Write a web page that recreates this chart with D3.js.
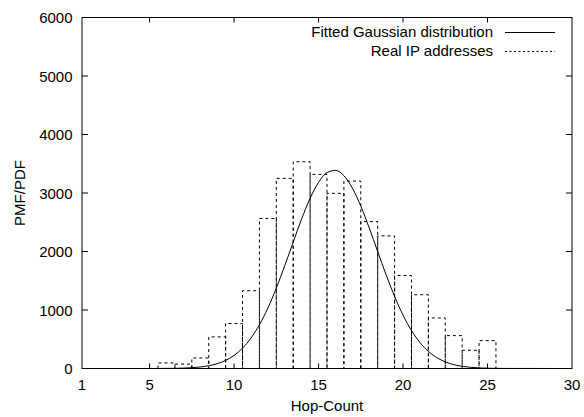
<!DOCTYPE html>
<html><head><meta charset="utf-8">
<script src="https://cdn.jsdelivr.net/npm/d3@7"></script>
<style>body{margin:0;background:#fff}svg{display:block}text{font-family:"Liberation Sans",Arial,sans-serif;font-size:15px;fill:#000}</style>
</head><body>
<script>
// Histogram: real IP addresses hop counts
const hops = [6,7,8,9,10,11,12,13,14,15,16,17,18,19,20,21,22,23,24,25];
const counts = [95,75,180,540,770,1330,2565,3250,3534,3318,2994,3204,2511,2267,1590,1261,864,562,312,477];
// Fitted Gaussian curve
const curveX = [1,5,6,6.5,7,7.5,8,8.5,9,9.5,10,10.5,11,11.5,12,12.5,13,13.5,14,14.5,15,15.5,16,16.5,17,17.5,18,18.5,19,19.5,20,20.5,21,21.5,22,22.5,23,23.5,24,24.5,25,26,30];
const curveY = [0,0,2,3,7,14,26,47,82,138,223,347,520,747,1033,1374,1758,2161,2558,2909,3182,3348,3387,3296,3084,2776,2403,2000,1601,1232,912,649,445,293,186,113,66,37,20,10,5,1,0];
const xTicks = [1,5,10,15,20,25,30];
const yTicks = [0,1000,2000,3000,4000,5000,6000];
const legendLabels = ["Fitted Gaussian distribution","Real IP addresses"];

const W=584,H=417;
const L=82,R=572,T=17.5,B=368.5;
const svg=d3.select("body").append("svg").attr("width",W).attr("height",H);
const x=d3.scaleLinear().domain([1,30]).range([L,R]);
const y=d3.scaleLinear().domain([0,6000]).range([B,T]);

// bars
const g=svg.append("g");
hops.forEach((h,i)=>{
  const x0=x(h-0.5),x1=x(h+0.5),yt=y(counts[i]);
  g.append("path").attr("d",`M${x0},${B}V${yt}H${x1}V${B}`)
   .attr("fill","none").attr("stroke","#000").attr("stroke-width",1)
   .attr("stroke-dasharray","3,3").attr("stroke-dashoffset",i%2?1.5:0);
});

// curve
const line=d3.line().x((d,i)=>x(curveX[i])).y(d=>y(d)).curve(d3.curveMonotoneX);
svg.append("path").attr("d",line(curveY)).attr("fill","none").attr("stroke","#000").attr("stroke-width",1);

// frame
svg.append("rect").attr("x",L).attr("y",T).attr("width",R-L).attr("height",B-T)
  .attr("fill","none").attr("stroke","#000").attr("stroke-width",1);

// ticks
const tl=5;
xTicks.forEach(t=>{
  if(t!==1&&t!==30){
    svg.append("line").attr("x1",x(t)).attr("x2",x(t)).attr("y1",B).attr("y2",B-tl).attr("stroke","#000");
    svg.append("line").attr("x1",x(t)).attr("x2",x(t)).attr("y1",T).attr("y2",T+tl).attr("stroke","#000");
  }
  svg.append("text").attr("x",x(t)).attr("y",390).attr("text-anchor","middle").text(t);
});
yTicks.forEach(t=>{
  if(t!==0&&t!==6000){
    svg.append("line").attr("x1",L).attr("x2",L+6).attr("y1",y(t)).attr("y2",y(t)).attr("stroke","#000");
    svg.append("line").attr("x1",R).attr("x2",R-6).attr("y1",y(t)).attr("y2",y(t)).attr("stroke","#000");
  }
  svg.append("text").attr("x",72.5).attr("y",y(t)+5.5).attr("text-anchor","end").text(t);
});

// axis titles
svg.append("text").attr("x",327).attr("y",411).attr("text-anchor","middle").text("Hop-Count");
svg.append("text").attr("transform","translate(24.5,193) rotate(-90)").attr("text-anchor","middle").text("PMF/PDF");

// legend
legendLabels.forEach((lab,i)=>{
  const ly=32.5+i*19;
  svg.append("text").attr("x",493).attr("y",ly+4.5).attr("text-anchor","end").text(lab);
  svg.append("line").attr("x1",505).attr("x2",555).attr("y1",ly).attr("y2",ly)
    .attr("stroke","#000").attr("stroke-width",1).attr("stroke-dasharray",i?"2,2.5":null);
});
</script>
</body></html>
